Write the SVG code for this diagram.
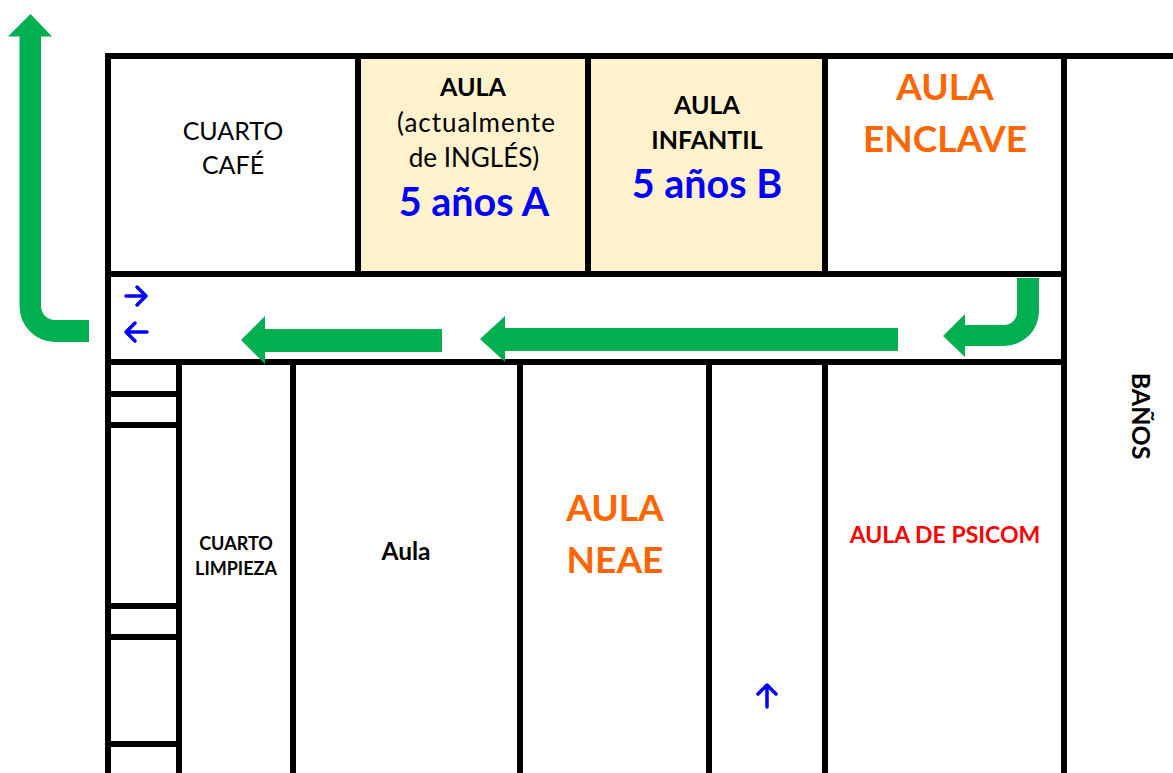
<svg xmlns="http://www.w3.org/2000/svg" width="1173" height="773" viewBox="0 0 1173 773">
<style>
text{font-family:Lato,Carlito,"Open Sans",sans-serif;text-anchor:middle;fill:#000}
.b{font-weight:700}
.o{fill:#FF6600;font-weight:700;font-size:37px}
.l{fill:#0000FF;font-weight:700;font-size:39.500px}
.wall{stroke:#000;stroke-width:6;fill:none}
.g{fill:#00B050}
.ba{stroke:#0000FF;stroke-width:3.500;fill:none;stroke-linecap:round;stroke-linejoin:round}
</style>
<rect width="1173" height="773" fill="#fff"/>
<g id="rooms">
<rect id="aula-5a" x="358" y="56" width="230" height="218" fill="#FFF2CC"/>
<rect id="aula-5b" x="588" y="56" width="237" height="218" fill="#FFF2CC"/>
</g>
<g id="walls" class="wall">
<path d="M105 56H1173M108 56V773M358 56V274M588 56V274M825 56V274M1064 56V773M108 274H1064M108 362H1064"/>
<path d="M179 362V773M293 362V773M520 362V773M709 362V773M825 362V773"/>
<path d="M108 394H179M108 425H179M108 606H179M108 637H179M108 744H179"/>
</g>
<g id="connectors">
<path class="g" d="M30.500 14L52 36.500H41V306A14 14 0 0 0 55 320H89V342H55A35.500 35.500 0 0 1 19.500 306.500V36.500H8Z"/>
<path class="g" d="M241 340L265 316V329H442V352H265V364Z"/>
<path class="g" d="M480 339L505 316V328H898V351H505V362Z"/>
<path class="g" d="M1039 278V311A35 35 0 0 1 1004 346H965V357L943 336L965 314V325H1004A13 13 0 0 0 1017 312V278Z"/>
<path class="ba" d="M126 296H146M137 287L146 296L137 305"/>
<path class="ba" d="M147 332H126M135 323L126 332L135 341"/>
<path class="ba" d="M767 707V685M758 694L767 685L776 694"/>
</g>
<g id="cuarto-cafe"><text x="233" y="140" font-size="25">CUARTO</text><text x="233" y="174" font-size="25">CAFÉ</text></g>
<g id="aula-a"><text class="b" x="473" y="96" font-size="25">AULA</text><text x="476" y="132" font-size="26" textLength="158">(actualmente</text><text x="474" y="167" font-size="26">de INGLÉS)</text><text class="l" x="474" y="216">5 años A</text></g>
<g id="aula-b"><text class="b" x="707" y="114" font-size="25">AULA</text><text class="b" x="707" y="149" font-size="25">INFANTIL</text><text class="l" x="707" y="198">5 años B</text></g>
<g id="enclave"><text class="o" x="945" y="100">AULA</text><text class="o" x="945" y="152">ENCLAVE</text></g>
<g id="limpieza"><text class="b" x="236" y="550" font-size="18">CUARTO</text><text class="b" x="236" y="575" font-size="18">LIMPIEZA</text></g>
<g id="aula"><text class="b" x="406" y="560" font-size="24.500">Aula</text></g>
<g id="neae"><text class="o" x="615" y="521">AULA</text><text class="o" x="615" y="573">NEAE</text></g>
<g id="psicom"><text class="b" x="945" y="543" font-size="23" style="fill:#FF0000">AULA DE PSICOM</text></g>
<g id="banos"><text class="b" font-size="25" transform="translate(1132 416) rotate(90)">BAÑOS</text></g>
</svg>
